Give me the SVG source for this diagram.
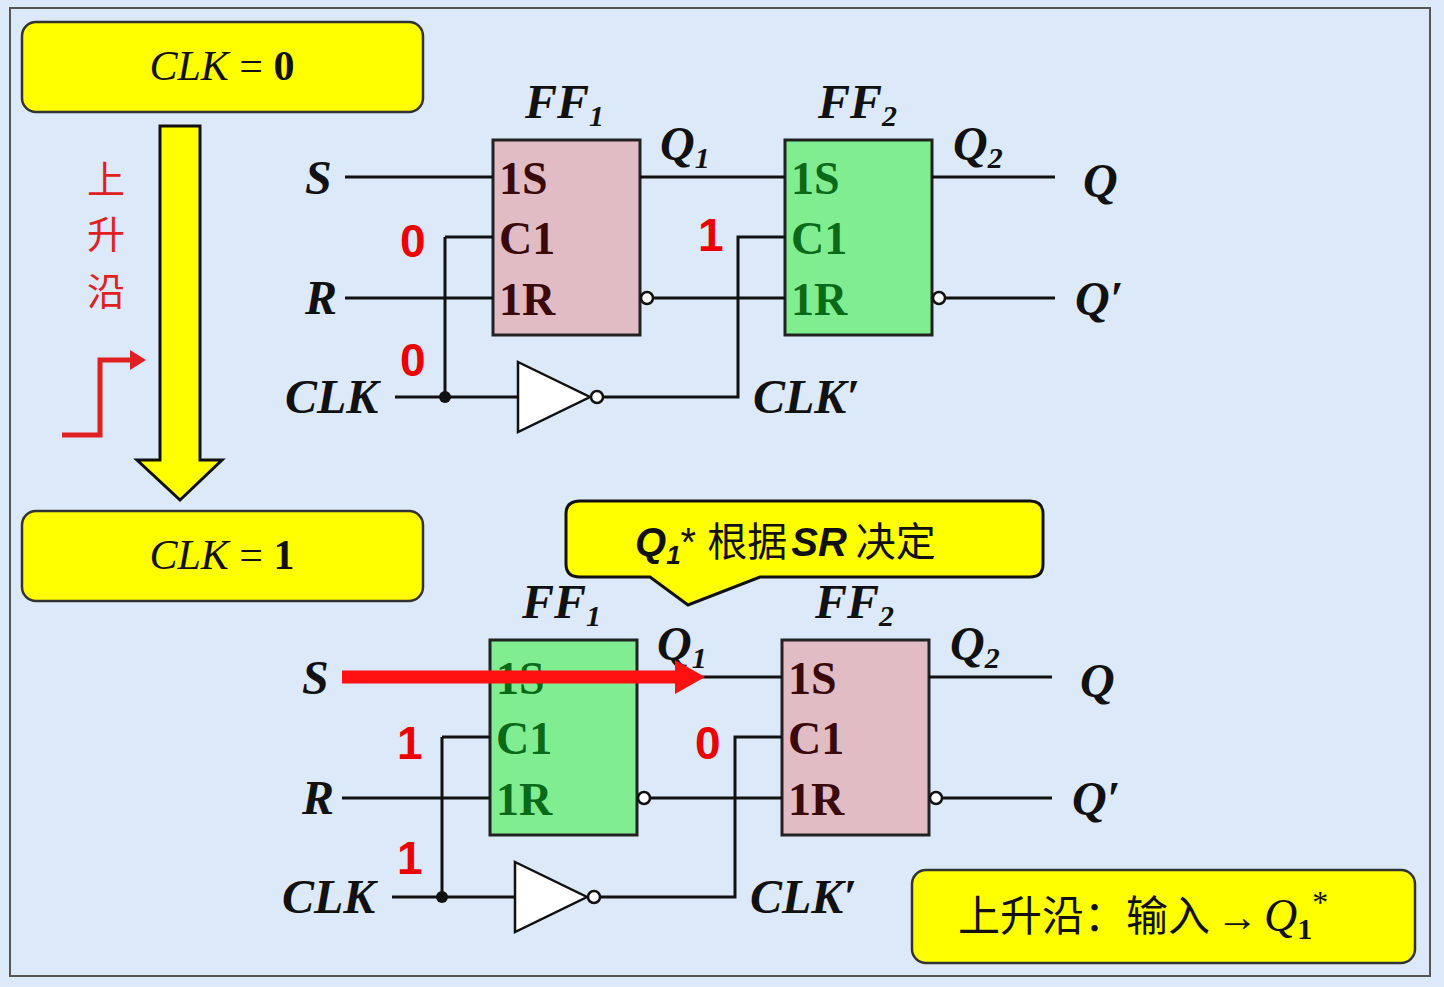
<svg xmlns="http://www.w3.org/2000/svg" width="1444" height="987" viewBox="0 0 1444 987">
<defs>
<style>
.w{stroke:#111;stroke-width:3;fill:none}
.lbl{font-family:"Liberation Serif",serif;font-style:italic;font-weight:bold;font-size:48px;fill:#111}
.sub{font-size:30px}
.pin{font-family:"Liberation Serif",serif;font-weight:bold;font-size:46px}
.red{font-family:"Liberation Sans",sans-serif;font-weight:bold;font-size:46px;fill:#e00}
.pink{fill:#e2bcc4;stroke:#222;stroke-width:3}
.green{fill:#80ee90;stroke:#222;stroke-width:3}
.yb{fill:#ffff00;stroke:#333;stroke-width:2.5}
.bub{fill:#fff;stroke:#111;stroke-width:2.5}
</style>
</defs>
<rect x="0" y="0" width="1444" height="987" fill="#dce9f8"/>
<rect x="10" y="8" width="1420" height="968" fill="none" stroke="#555" stroke-width="2"/>

<g id="clk0"><rect class="yb" x="22" y="22" width="401" height="90" rx="14"/>
<text x="222" y="80" text-anchor="middle" font-family="Liberation Serif,serif" font-size="42" fill="#111"><tspan font-style="italic">CLK</tspan> = <tspan font-weight="bold">0</tspan></text></g>
<g id="clk1"><rect class="yb" x="22" y="511" width="401" height="90" rx="14"/>
<text x="222" y="569" text-anchor="middle" font-family="Liberation Serif,serif" font-size="42" fill="#111"><tspan font-style="italic">CLK</tspan> = <tspan font-weight="bold">1</tspan></text></g>
<g id="bigarrow"><path d="M160,126H200V460H222L180,500L137,460H160Z" fill="#ffff00" stroke="#111" stroke-width="3"/></g>
<g id="rise" font-family="Noto Sans CJK SC,sans-serif" font-size="38" fill="#e02020">
<text x="106" y="193" text-anchor="middle">上</text><text x="106" y="248" text-anchor="middle">升</text><text x="106" y="305" text-anchor="middle">沿</text>
<path d="M62,435H100V360H132" stroke="#e02020" stroke-width="5" fill="none"/><path d="M130,350L146,360L130,370Z" fill="#e02020"/></g>

<g id="top">
<g id="t-ff1"><rect class="pink" x="493" y="140" width="147" height="195"/>
<g class="pin" fill="#3a0a0a"><text x="499" y="194">1S</text><text x="499" y="254">C1</text><text x="499" y="315">1R</text></g></g>
<g id="t-ff2"><rect class="green" x="785" y="140" width="147" height="195"/>
<g class="pin" fill="#0a6a1a"><text x="791" y="194">1S</text><text x="791" y="254">C1</text><text x="791" y="315">1R</text></g></g>
<g id="t-inv"><path d="M518,362L590,397L518,432Z" fill="#fff" stroke="#111" stroke-width="2.5"/><circle class="bub" cx="597" cy="397" r="6"/></g>
<g id="t-wires">
<path class="w" d="M345,177H493M345,298H493M445,237H493M445,237V397M395,397H518M603,397H738V237H785M640,177H785M653,298H785M932,177H1055M945,298H1055"/>
<circle cx="445" cy="397" r="6" fill="#111"/><circle class="bub" cx="647" cy="298" r="6"/><circle class="bub" cx="939" cy="298" r="6"/></g>
<g class="lbl"><text x="305" y="194">S</text><text x="305" y="314">R</text><text x="285" y="413">CLK</text><text x="753" y="413">CLK′</text>
<text x="525" y="118">FF<tspan class="sub" dy="8">1</tspan></text><text x="818" y="118">FF<tspan class="sub" dy="8">2</tspan></text>
<text x="660" y="160">Q<tspan class="sub" dy="8">1</tspan></text><text x="953" y="160">Q<tspan class="sub" dy="8">2</tspan></text>
<text x="1083" y="197">Q</text><text x="1075" y="315">Q′</text></g>
<g class="red"><text x="400" y="257">0</text><text x="400" y="376">0</text><text x="698" y="251">1</text></g>
</g>

<g id="bottom" transform="translate(-3,500)">
<g id="b-ff1"><rect class="green" x="493" y="140" width="147" height="195"/>
<g class="pin" fill="#0a6a1a"><text x="499" y="194">1S</text><text x="499" y="254">C1</text><text x="499" y="315">1R</text></g></g>
<g id="b-ff2"><rect class="pink" x="785" y="140" width="147" height="195"/>
<g class="pin" fill="#3a0a0a"><text x="791" y="194">1S</text><text x="791" y="254">C1</text><text x="791" y="315">1R</text></g></g>
<g id="b-inv"><path d="M518,362L590,397L518,432Z" fill="#fff" stroke="#111" stroke-width="2.5"/><circle class="bub" cx="597" cy="397" r="6"/></g>
<g id="b-wires">
<path class="w" d="M345,177H493M345,298H493M445,237H493M445,237V397M395,397H518M603,397H738V237H785M640,177H785M653,298H785M932,177H1055M945,298H1055"/>
<circle cx="445" cy="397" r="6" fill="#111"/><circle class="bub" cx="647" cy="298" r="6"/><circle class="bub" cx="939" cy="298" r="6"/></g>
<g class="lbl"><text x="305" y="194">S</text><text x="305" y="314">R</text><text x="285" y="413">CLK</text><text x="753" y="413">CLK′</text>
<text x="525" y="118">FF<tspan class="sub" dy="8">1</tspan></text><text x="818" y="118">FF<tspan class="sub" dy="8">2</tspan></text>
<text x="660" y="160">Q<tspan class="sub" dy="8">1</tspan></text><text x="953" y="160">Q<tspan class="sub" dy="8">2</tspan></text>
<text x="1083" y="197">Q</text><text x="1075" y="315">Q′</text></g>
<g class="red"><text x="400" y="259">1</text><text x="400" y="374">1</text><text x="698" y="259">0</text></g>
<path d="M345,177H680" stroke="#ff1010" stroke-width="13"/><path d="M678,160L708,177L678,194Z" fill="#ff1010"/>
</g>

<g id="callout"><path d="M580,501H1030Q1043,501 1043,514V564Q1043,577 1030,577H760L688,605L650,577H580Q566,577 566,564V514Q566,501 580,501Z" fill="#ffff00" stroke="#111" stroke-width="3"/>
<text x="635" y="556" font-family="Liberation Sans,Noto Sans CJK SC,sans-serif" font-size="40" fill="#111"><tspan font-weight="bold" font-style="italic">Q</tspan><tspan font-weight="bold" font-style="italic" font-size="26" dy="8">1</tspan><tspan dy="-8">* </tspan><tspan font-family="Noto Sans CJK SC,sans-serif">根据</tspan><tspan font-weight="bold" font-style="italic" dx="4">SR</tspan><tspan font-family="Noto Sans CJK SC,sans-serif"> 决定</tspan></text></g>

<g id="note"><rect class="yb" x="912" y="870" width="503" height="93" rx="14"/>
<text x="958" y="931" font-family="Noto Sans CJK SC,sans-serif" font-size="42" fill="#111">上升沿：输入<tspan font-family="Liberation Serif,serif" dx="6">→</tspan><tspan font-family="Liberation Serif,serif" font-style="italic" font-size="46" dx="6">Q</tspan><tspan font-family="Liberation Serif,serif" font-weight="bold" font-size="30" dy="8">1</tspan><tspan font-family="Liberation Serif,serif" font-size="32" dy="-26">*</tspan></text></g>
</svg>
